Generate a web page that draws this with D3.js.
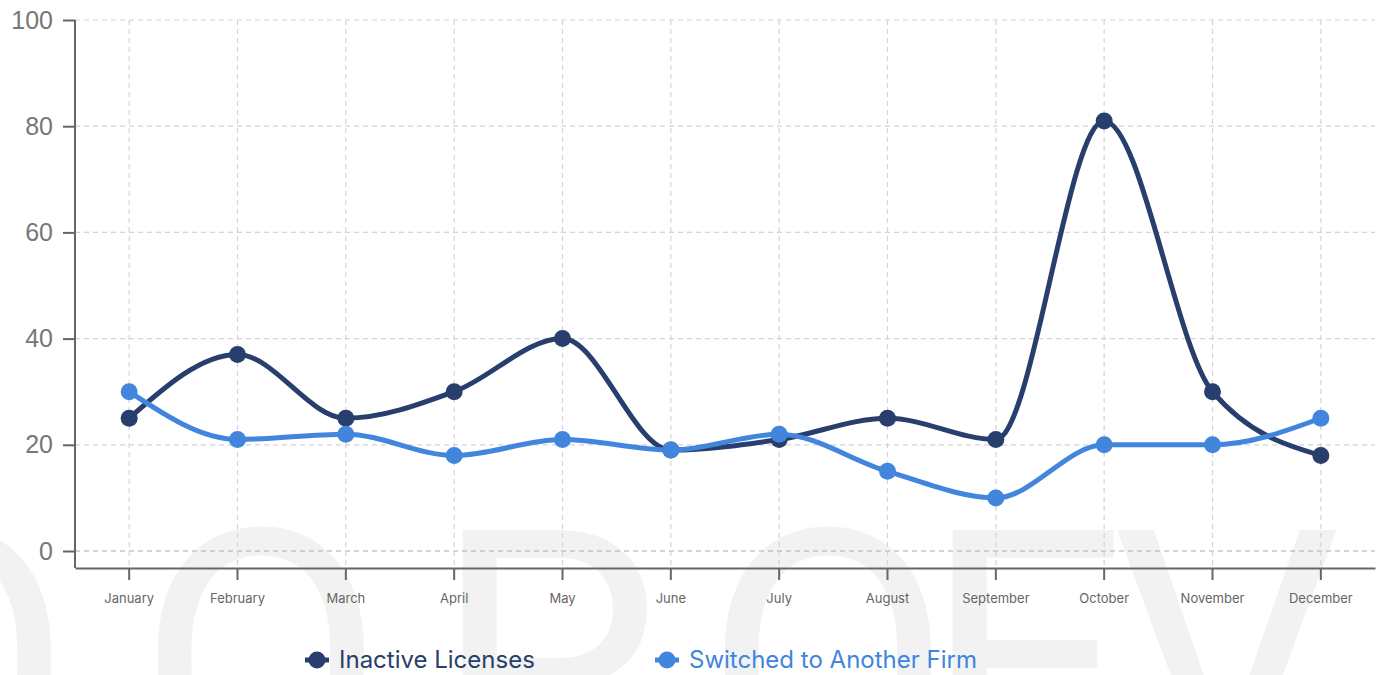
<!DOCTYPE html>
<html>
<head>
<meta charset="utf-8">
<script src="https://cdn.jsdelivr.net/npm/d3@7"></script>
<style>
  html, body { margin: 0; padding: 0; background: #fff; }
  svg { display: block; }
</style>
</head>
<body>
<div id="chart"></div>
<script>
const months = ['January', 'February', 'March', 'April', 'May', 'June', 'July', 'August', 'September', 'October', 'November', 'December']
const inactiveLicenses = [25, 37, 25, 30, 40, 19, 21, 25, 21, 81, 30, 18]
const switchedFirm = [30, 21, 22, 18, 21, 19, 22, 15, 10, 20, 20, 25]
const yTicks = [0, 20, 40, 60, 80, 100]
const seriesNames = ['Inactive Licenses', 'Switched to Another Firm']

const width = 1384
const height = 675
const plotLeft = 75
const plotRight = 1375
const plotTop = 20
const zeroY = 551
const axisY = 568
const colors = ['#283e6c', '#4185dc']

const svg = d3.select('#chart')
  .append('svg')
  .attr('width', width)
  .attr('height', height)

// watermark behind everything
const mark = svg.append('text')
  .attr('y', 786)
  .attr('fill', '#f2f2f2')
  .attr('style', 'font-family:Roboto,sans-serif;font-weight:400;font-size:360px;')
const markLetters = [['O', -176], ['O', 137], ['P', 433], ['O', 704], ['E', 923], ['V', 1112]]
mark.selectAll('tspan')
  .data(markLetters)
  .enter()
  .append('tspan')
  .attr('x', d => d[1])
  .text(d => d[0])

const x = d3.scaleBand()
  .domain(months)
  .range([plotLeft, plotRight])
const cx = d => x(d) + x.bandwidth() / 2

const y = d3.scaleLinear()
  .domain([0, 100])
  .range([zeroY, plotTop])

// grid
const grid = svg.append('g').attr('class', 'grid')
grid.selectAll('line.h')
  .data(yTicks)
  .enter()
  .append('line')
  .attr('class', 'h')
  .attr('x1', plotLeft)
  .attr('x2', plotRight)
  .attr('y1', d => y(d))
  .attr('y2', d => y(d))
  .attr('stroke', d => d === 0 ? '#aaa' : '#d4d4d4')
  .attr('stroke-width', 1.2)
  .attr('stroke-dasharray', '5,4')
grid.selectAll('line.v')
  .data(months)
  .enter()
  .append('line')
  .attr('class', 'v')
  .attr('x1', cx)
  .attr('x2', cx)
  .attr('y1', plotTop)
  .attr('y2', axisY)
  .attr('stroke', '#d4d4d4')
  .attr('stroke-width', 1.2)
  .attr('stroke-dasharray', '5,4')

// axes
const yAxisG = svg.append('g')
  .attr('transform', `translate(${plotLeft},0)`)
  .call(d3.axisLeft(y).tickValues(yTicks).tickSize(12).tickPadding(10).tickSizeOuter(0))
yAxisG.select('.domain').remove()
yAxisG.append('line')
  .attr('y1', plotTop)
  .attr('y2', axisY)
  .attr('stroke', '#666')
  .attr('stroke-width', 2)
yAxisG.selectAll('.tick line').attr('stroke', '#666').attr('stroke-width', 2)
yAxisG.selectAll('.tick text')
  .attr('fill', '#777')
  .attr('style', 'font-family:"Liberation Sans",Arial,sans-serif;font-size:25px;')

const xAxisG = svg.append('g')
  .attr('transform', `translate(0,${axisY})`)
  .call(d3.axisBottom(x).tickSize(12).tickPadding(14).tickSizeOuter(0))
xAxisG.select('.domain').attr('stroke', '#666').attr('stroke-width', 2)
xAxisG.selectAll('.tick line').attr('stroke', '#666').attr('stroke-width', 2)
xAxisG.selectAll('.tick text')
  .attr('fill', '#666')
  .attr('style', 'font-family:Inter,sans-serif;font-size:13px;')

// lines and dots
const line = d3.line()
  .x((d, i) => cx(months[i]))
  .y(d => y(d))
  .curve(d3.curveMonotoneX)

;[inactiveLicenses, switchedFirm].forEach((values, k) => {
  const g = svg.append('g').attr('class', 'series-' + k)
  g.append('path')
    .datum(values)
    .attr('d', line)
    .attr('fill', 'none')
    .attr('stroke', colors[k])
    .attr('stroke-width', 5)
  g.selectAll('circle')
    .data(values)
    .enter()
    .append('circle')
    .attr('cx', (d, i) => cx(months[i]))
    .attr('cy', d => y(d))
    .attr('r', 8.5)
    .attr('fill', colors[k])
})

// legend
const legendX = [305, 655]
const legend = svg.append('g').attr('class', 'legend')
seriesNames.forEach((name, k) => {
  const g = legend.append('g').attr('transform', `translate(${legendX[k]},660)`)
  g.append('line')
    .attr('x1', 0)
    .attr('x2', 24)
    .attr('stroke', colors[k])
    .attr('stroke-width', 5)
  g.append('circle')
    .attr('cx', 12)
    .attr('r', 8.5)
    .attr('fill', colors[k])
  g.append('text')
    .text(name)
    .attr('x', 34)
    .attr('dy', '0.35em')
    .attr('fill', colors[k])
    .attr('style', 'font-family:Inter,sans-serif;font-size:24px;')
})
</script>
</body>
</html>
